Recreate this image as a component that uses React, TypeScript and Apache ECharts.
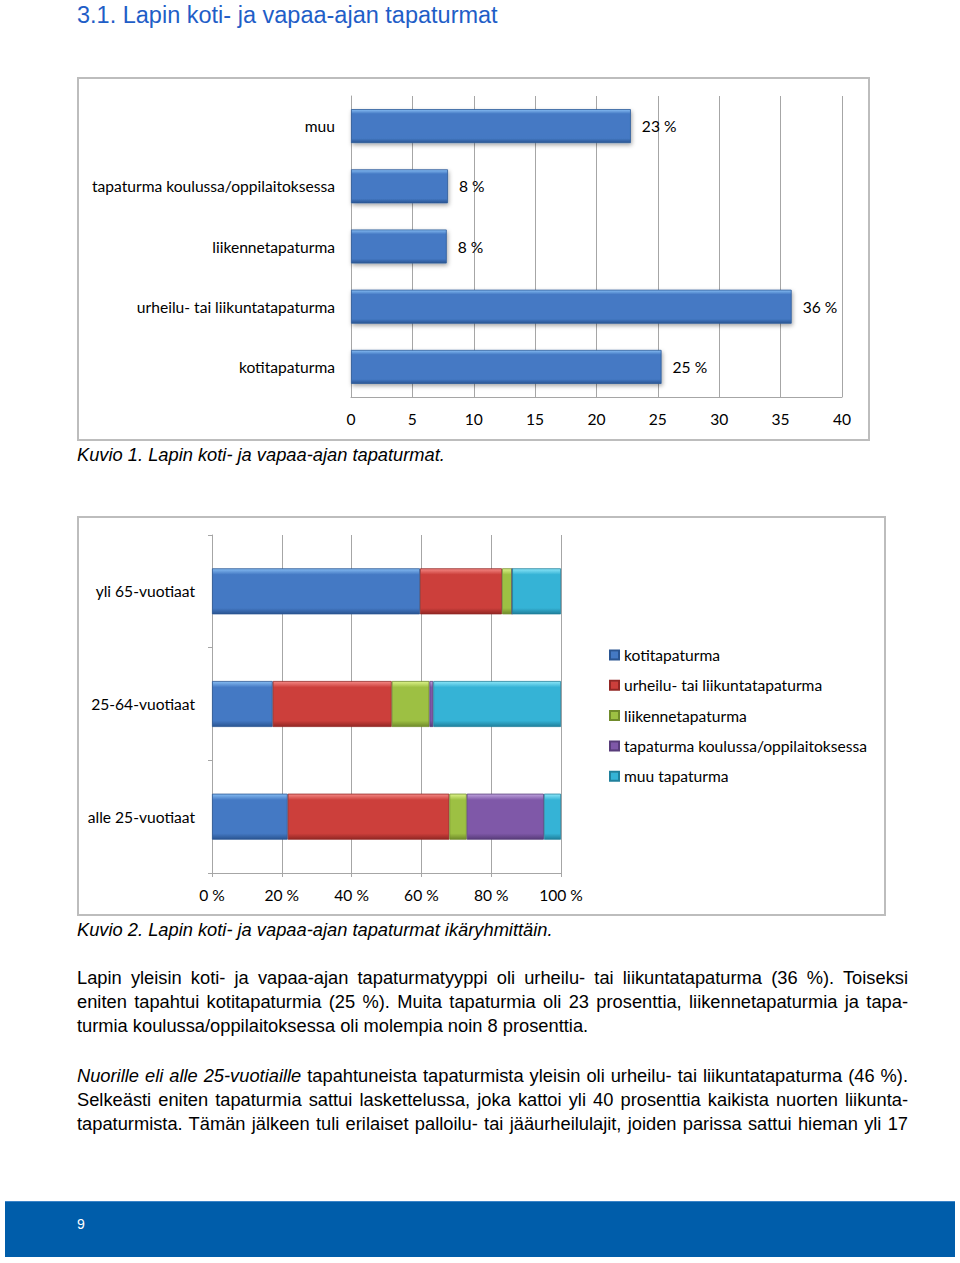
import React, { useEffect, useRef } from "react";
import * as echarts from "echarts";

// ---- Data: Kuvio 1 ----
const typeCategories = [
  "muu",
  "tapaturma koulussa/oppilaitoksessa",
  "liikennetapaturma",
  "urheilu- tai liikuntatapaturma",
  "kotitapaturma",
];
const typeValues = [22.8, 7.9, 7.8, 35.9, 25.3];

// ---- Data: Kuvio 2 ----
const ageGroups = ["yli 65-vuotiaat", "25-64-vuotiaat", "alle 25-vuotiaat"];
const seriesNames = [
  "kotitapaturma",
  "urheilu- tai liikuntatapaturma",
  "liikennetapaturma",
  "tapaturma koulussa/oppilaitoksessa",
  "muu tapaturma",
];
const kotiShare = [59.6, 17.4, 21.7];
const urheiluShare = [23.5, 34.1, 46.3];
const liikenneShare = [2.9, 10.8, 5.0];
const kouluShare = [0.0, 1.1, 22.1];
const muuShare = [14.0, 36.6, 4.9];

const FONT = "Lato, 'Open Sans', sans-serif";
const ARIAL = "'Liberation Sans', Arial, sans-serif";
const FS = 15.6;

const palette = [
  ["#86BCF2", "#4479C4", "#2A5592"],
  ["#F58A86", "#CC3F3B", "#922724"],
  ["#DDF38A", "#9DC043", "#708B2B"],
  ["#BFA4DE", "#7F58A8", "#583C7A"],
  ["#8CE6F8", "#35B3D6", "#20809C"],
];

const grad = (c: string[]) =>
  new echarts.graphic.LinearGradient(0, 0, 0, 1, [
    { offset: 0, color: c[0] },
    { offset: 0.13, color: c[1] },
    { offset: 0.87, color: c[1] },
    { offset: 1, color: c[2] },
  ]);

export default function App() {
  const ref = useRef<HTMLDivElement>(null);

  useEffect(() => {
    if (!ref.current) return;
    const chart = echarts.init(ref.current, null, { renderer: "svg" });
    const shares = [kotiShare, urheiluShare, liikenneShare, kouluShare, muuShare];
    const gray = "#A6A6A6";
    chart.setOption({
      animation: false,
      textStyle: { fontFamily: FONT },
      grid: [
        { left: 351, top: 96, width: 491, height: 301 },
        { left: 212, top: 535, width: 349, height: 338 },
      ],
      xAxis: [
        {
          gridIndex: 0,
          type: "value",
          min: 0,
          max: 40,
          interval: 5,
          axisLine: { show: true, lineStyle: { color: gray } },
          axisTick: { show: false },
          splitLine: { show: true, lineStyle: { color: gray } },
          axisLabel: { color: "#000", fontSize: FS, margin: 14, fontFamily: FONT },
        },
        {
          gridIndex: 1,
          type: "value",
          min: 0,
          max: 100,
          interval: 20,
          axisLine: { show: true, lineStyle: { color: gray } },
          axisTick: { show: true, length: 4, lineStyle: { color: gray } },
          splitLine: { show: true, lineStyle: { color: gray } },
          axisLabel: { color: "#000", fontSize: FS, margin: 14, formatter: "{value} %", fontFamily: FONT },
        },
      ],
      yAxis: [
        {
          gridIndex: 0,
          type: "category",
          inverse: true,
          data: typeCategories,
          axisLine: { show: true, lineStyle: { color: gray } },
          axisTick: { show: false },
          axisLabel: { color: "#000", fontSize: FS, margin: 16, fontFamily: FONT },
        },
        {
          gridIndex: 1,
          type: "category",
          inverse: true,
          data: ageGroups,
          axisLine: { show: true, lineStyle: { color: gray } },
          axisTick: { show: true, length: 4, lineStyle: { color: gray } },
          axisLabel: { color: "#000", fontSize: FS, margin: 17, fontFamily: FONT },
        },
      ],
      legend: {
        orient: "vertical",
        left: 604,
        top: 642,
        itemWidth: 9,
        itemHeight: 9,
        itemGap: 14.3,
        icon: "rect",
        data: seriesNames,
        textStyle: { fontSize: FS, lineHeight: 16, color: "#000", fontFamily: FONT },
      },
      series: [
        {
          type: "bar",
          name: "Kuvio 1",
          xAxisIndex: 0,
          yAxisIndex: 0,
          data: typeValues,
          barWidth: 34,
          itemStyle: {
            color: grad(palette[0]),
            borderColor: "#2E5C99",
            borderWidth: 0.8,
            shadowBlur: 4,
            shadowOffsetX: 1,
            shadowOffsetY: 2,
            shadowColor: "rgba(0,0,0,0.35)",
          },
          label: {
            show: true,
            position: "right",
            distance: 11,
            color: "#000",
            fontSize: FS,
            fontFamily: FONT,
            formatter: (p: any) => Math.round(p.value) + " %",
          },
        },
        ...seriesNames.map((name, i) => ({
          type: "bar",
          name,
          stack: "age",
          xAxisIndex: 1,
          yAxisIndex: 1,
          data: shares[i],
          barWidth: 46,
          itemStyle: {
            color: grad(palette[i]),
            borderColor: palette[i][2],
            borderWidth: 0.8,
          },
        })),
      ],
      graphic: [
        {
          type: "rect",
          shape: { x: 78, y: 78, width: 791, height: 362 },
          style: { fill: "none", stroke: "#BDBDBD", lineWidth: 2 },
          silent: true,
        },
        {
          type: "rect",
          shape: { x: 78, y: 517, width: 807, height: 398 },
          style: { fill: "none", stroke: "#BDBDBD", lineWidth: 2 },
          silent: true,
        },
      ],
    });
    return () => chart.dispose();
  }, []);

  const lineStyle: React.CSSProperties = {
    width: 831,
    whiteSpace: "nowrap",
    textAlign: "justify",
    textAlignLast: "justify",
    height: 24,
    lineHeight: "24px",
  };
  const lastLine: React.CSSProperties = { ...lineStyle, textAlign: "left", textAlignLast: "left" };
  const PFS = 18.3;

  return (
    <div
      style={{
        position: "absolute",
        left: 0,
        top: 0,
        width: 960,
        height: 1263,
        background: "#fff",
        overflow: "hidden",
        fontFamily: ARIAL,
      }}
    >
      <div ref={ref} style={{ position: "absolute", left: 0, top: 0, width: 960, height: 1263 }} />
      <div
        style={{
          position: "absolute",
          left: 77,
          top: 0,
          lineHeight: "30px",
          fontSize: 23.5,
          color: "#1F5EC7",
        }}
      >
        3.1. Lapin koti- ja vapaa-ajan tapaturmat
      </div>
      <div style={{ position: "absolute", left: 77, top: 444, lineHeight: "22px", fontSize: PFS, fontStyle: "italic" }}>
        Kuvio 1. Lapin koti- ja vapaa-ajan tapaturmat.
      </div>
      <div style={{ position: "absolute", left: 77, top: 919, lineHeight: "22px", fontSize: PFS, fontStyle: "italic" }}>
        Kuvio 2. Lapin koti- ja vapaa-ajan tapaturmat ikäryhmittäin.
      </div>
      <div style={{ position: "absolute", left: 77, top: 966, fontSize: PFS, color: "#000" }}>
        <div style={lineStyle}>
          Lapin yleisin koti- ja vapaa-ajan tapaturmatyyppi oli urheilu- tai liikuntatapaturma (36 %). Toiseksi
        </div>
        <div style={lineStyle}>
          eniten tapahtui kotitapaturmia (25 %). Muita tapaturmia oli 23 prosenttia, liikennetapaturmia ja tapa-
        </div>
        <div style={lastLine}>turmia koulussa/oppilaitoksessa oli molempia noin 8 prosenttia.</div>
      </div>
      <div style={{ position: "absolute", left: 77, top: 1064, fontSize: PFS, color: "#000" }}>
        <div style={lineStyle}>
          <i>Nuorille eli alle 25-vuotiaille</i> tapahtuneista tapaturmista yleisin oli urheilu- tai liikuntatapaturma (46 %).
        </div>
        <div style={lineStyle}>
          Selkeästi eniten tapaturmia sattui laskettelussa, joka kattoi yli 40 prosenttia kaikista nuorten liikunta-
        </div>
        <div style={lineStyle}>
          tapaturmista. Tämän jälkeen tuli erilaiset palloilu- tai jääurheilulajit, joiden parissa sattui hieman yli 17
        </div>
      </div>
      <div
        style={{
          position: "absolute",
          left: 5,
          top: 1201,
          width: 950,
          height: 56,
          background: "#005DAA",
          borderTop: "1px solid #3B84C8",
          boxSizing: "border-box",
        }}
      >
        <div style={{ position: "absolute", left: 72, top: 13, lineHeight: "18px", fontSize: 14, color: "#fff" }}>9</div>
      </div>
    </div>
  );
}
